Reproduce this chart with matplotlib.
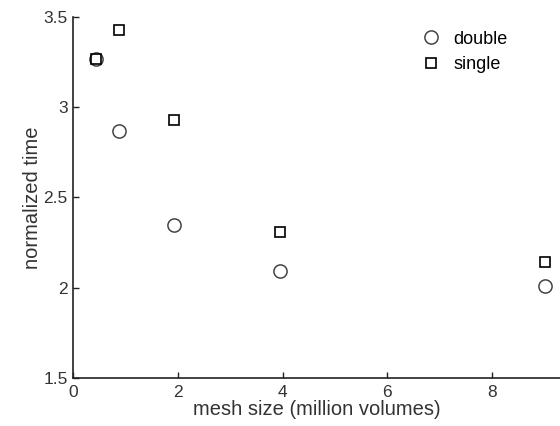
import matplotlib.pyplot as plt

plt.rcParams['font.family'] = ['Liberation Sans', 'DejaVu Sans']

# mesh size in million volumes
mesh = [0.43, 0.88, 1.93, 3.94, 9.02]
t_double = [3.27, 2.87, 2.35, 2.09, 2.01]
t_single = [3.27, 3.43, 2.93, 2.31, 2.14]

fig = plt.figure(figsize=(5.6, 4.26), dpi=100)
ax = fig.add_axes([0.131, 0.113, 0.869, 0.847])

ax.plot(mesh, t_double, 'o', ms=9.5, mfc='none', mec='#444444', mew=1.1, label='double')
ax.plot(mesh, t_single, 's', ms=7.5, mfc='none', mec='black', mew=1.2, label='single')

ax.set_xlim(0, 9.3)
ax.set_ylim(1.5, 3.5)
ax.set_xticks([0, 2, 4, 6, 8])
ax.set_yticks([1.5, 2, 2.5, 3, 3.5])
ax.set_yticklabels(['1.5', '2', '2.5', '3', '3.5'])

for s in ['top', 'right']:
    ax.spines[s].set_visible(False)
for s in ['left', 'bottom']:
    ax.spines[s].set_color('#222222')
    ax.spines[s].set_linewidth(1.2)

ax.tick_params(direction='in', length=4, width=1, colors='#222222', labelsize=12.5, labelcolor='#333333')
ax.tick_params(axis='x', pad=5)
ax.tick_params(axis='y', pad=4)

ax.set_xlabel('mesh size (million volumes)', fontsize=14.5, color='#333333', labelpad=0)
ax.set_ylabel('normalized time', fontsize=14.5, color='#333333', labelpad=1)

ax.legend(loc='upper right', bbox_to_anchor=(0.925, 1.007), frameon=False, fontsize=13,
          handletextpad=0.7, labelspacing=0.45, handlelength=1.0)

fig.savefig('out.png', dpi=100)
